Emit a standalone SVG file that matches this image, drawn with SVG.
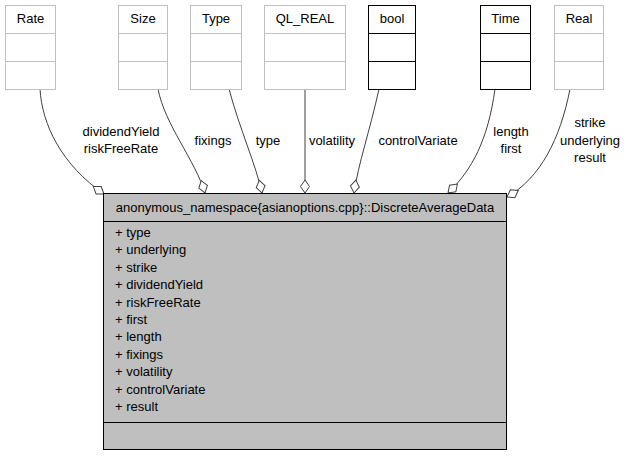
<svg xmlns="http://www.w3.org/2000/svg" width="627" height="456" viewBox="0 0 627 456">
<style>
text{font-family:"Liberation Sans",Arial,sans-serif;font-size:13px;fill:#000}
.c{text-anchor:middle}
.g{fill:#fff;stroke:#bfbfbf;stroke-width:1}
.k{fill:#fff;stroke:#000;stroke-width:1}
.e{fill:none;stroke:#404040;stroke-width:1;marker-end:url(#od)}
</style>
<defs>
<marker id="od" viewBox="-1 -1 15 11" refX="13" refY="4.5" markerWidth="15" markerHeight="11" markerUnits="userSpaceOnUse" orient="auto">
<path d="M0,4.5 L6.5,0 L13,4.5 L6.5,9 Z" fill="#fff" stroke="#404040" stroke-width="1"/>
</marker>
</defs>
<rect width="627" height="456" fill="#fff"/>
<g id="connectors">
<path class="e" d="M40,89 C42,125 62,165 104,194"/>
<path class="e" d="M158,89 C165,125 195,160 205,193"/>
<path class="e" d="M229,89 C240,130 256,165 262,193"/>
<path class="e" d="M305,89 L305,193"/>
<path class="e" d="M379,89 C370,130 358,165 354,193"/>
<path class="e" d="M495,89 C488,140 472,170 448,193"/>
<path class="e" d="M570,89 C560,140 540,178 507,197"/>
<text class="c" x="121" y="136">dividendYield</text>
<text class="c" x="121" y="153">riskFreeRate</text>
<text class="c" x="213" y="145">fixings</text>
<text class="c" x="268" y="145">type</text>
<text class="c" x="332" y="145">volatility</text>
<text class="c" x="418" y="145">controlVariate</text>
<text class="c" x="511" y="136">length</text>
<text class="c" x="511" y="153">first</text>
<text class="c" x="590" y="127">strike</text>
<text class="c" x="590" y="145">underlying</text>
<text class="c" x="590" y="162">result</text>
</g>
<g id="Rate">
<rect class="g" x="5.5" y="5.5" width="50" height="84"/>
<line class="g" x1="5.5" y1="33.5" x2="55.5" y2="33.5"/>
<line class="g" x1="5.5" y1="61.5" x2="55.5" y2="61.5"/>
<text class="c" x="30.5" y="23">Rate</text>
</g>
<g id="Size">
<rect class="g" x="118.5" y="5.5" width="49" height="84"/>
<line class="g" x1="118.5" y1="33.5" x2="167.5" y2="33.5"/>
<line class="g" x1="118.5" y1="61.5" x2="167.5" y2="61.5"/>
<text class="c" x="143" y="23">Size</text>
</g>
<g id="Type">
<rect class="g" x="190.5" y="5.5" width="51" height="84"/>
<line class="g" x1="190.5" y1="33.5" x2="241.5" y2="33.5"/>
<line class="g" x1="190.5" y1="61.5" x2="241.5" y2="61.5"/>
<text class="c" x="216" y="23">Type</text>
</g>
<g id="QL_REAL">
<rect class="g" x="264.5" y="5.5" width="81" height="84"/>
<line class="g" x1="264.5" y1="33.5" x2="345.5" y2="33.5"/>
<line class="g" x1="264.5" y1="61.5" x2="345.5" y2="61.5"/>
<text class="c" x="305" y="23">QL_REAL</text>
</g>
<g id="bool">
<rect class="k" x="368.5" y="5.5" width="47" height="84"/>
<line class="k" x1="368.5" y1="33.5" x2="415.5" y2="33.5"/>
<line class="k" x1="368.5" y1="61.5" x2="415.5" y2="61.5"/>
<text class="c" x="392" y="23">bool</text>
</g>
<g id="Time">
<rect class="k" x="480.5" y="5.5" width="50" height="84"/>
<line class="k" x1="480.5" y1="33.5" x2="530.5" y2="33.5"/>
<line class="k" x1="480.5" y1="61.5" x2="530.5" y2="61.5"/>
<text class="c" x="505.5" y="23">Time</text>
</g>
<g id="Real">
<rect class="g" x="554.5" y="5.5" width="49" height="84"/>
<line class="g" x1="554.5" y1="33.5" x2="603.5" y2="33.5"/>
<line class="g" x1="554.5" y1="61.5" x2="603.5" y2="61.5"/>
<text class="c" x="579" y="23">Real</text>
</g>
<g id="DiscreteAverageData">
<rect x="103.5" y="193.5" width="403" height="256" fill="#bfbfbf" stroke="#000" stroke-width="1"/>
<line x1="103.5" y1="221.5" x2="506.5" y2="221.5" stroke="#000"/>
<line x1="103.5" y1="422.5" x2="506.5" y2="422.5" stroke="#000"/>
<text class="c" x="305" y="212">anonymous_namespace{asianoptions.cpp}::DiscreteAverageData</text>
<text x="115" y="237">+ type</text>
<text x="115" y="254.4">+ underlying</text>
<text x="115" y="271.8">+ strike</text>
<text x="115" y="289.2">+ dividendYield</text>
<text x="115" y="306.6">+ riskFreeRate</text>
<text x="115" y="324">+ first</text>
<text x="115" y="341.4">+ length</text>
<text x="115" y="358.8">+ fixings</text>
<text x="115" y="376.2">+ volatility</text>
<text x="115" y="393.6">+ controlVariate</text>
<text x="115" y="411">+ result</text>
</g>
</svg>
